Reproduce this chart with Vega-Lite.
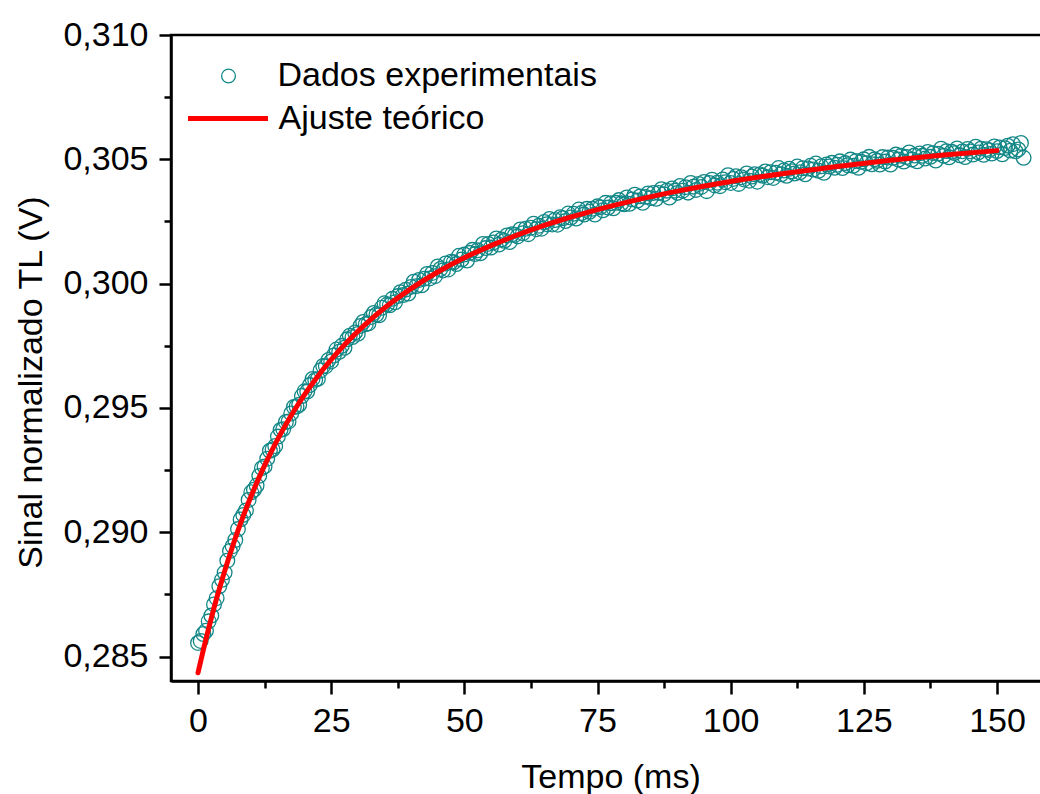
{
"$schema": "https://vega.github.io/schema/vega-lite/v6.json",
"width": 875, "height": 646,
"autosize": {"type": "none"},
"padding": {"left": 171, "top": 35, "right": 0, "bottom": 113},
"background": "white",
"config": {"view": {"stroke": "black", "strokeWidth": 2.5}, "font": "Liberation Sans", "axis": {"grid": false}},
"datasets": {
"pts": [
{"t":0,"v":0.28555},{"t":0.5,"v":0.28563},{"t":1,"v":0.28591},{"t":1.5,"v":0.28604},{"t":2,"v":0.28642},{"t":2.5,"v":0.28665},{"t":3,"v":0.28710},{"t":3.5,"v":0.28735},{"t":4,"v":0.28783},{"t":4.5,"v":0.28809},
{"t":5,"v":0.28838},{"t":5.5,"v":0.28886},{"t":6,"v":0.28925},{"t":6.5,"v":0.28944},{"t":7,"v":0.28969},{"t":7.5,"v":0.29013},{"t":8,"v":0.29052},{"t":8.5,"v":0.29070},{"t":9,"v":0.29088},{"t":9.5,"v":0.29130},
{"t":10,"v":0.29161},{"t":10.5,"v":0.29171},{"t":11,"v":0.29188},{"t":11.5,"v":0.29227},{"t":12,"v":0.29258},{"t":12.5,"v":0.29265},{"t":13,"v":0.29296},{"t":13.5,"v":0.29328},{"t":14,"v":0.29333},{"t":14.5,"v":0.29347},
{"t":15,"v":0.29385},{"t":15.5,"v":0.29412},{"t":16,"v":0.29415},{"t":16.5,"v":0.29444},{"t":17,"v":0.29446},{"t":17.5,"v":0.29478},{"t":18,"v":0.29504},{"t":18.5,"v":0.29506},{"t":19,"v":0.29513},{"t":19.5,"v":0.29548},
{"t":20,"v":0.29567},{"t":20.5,"v":0.29566},{"t":21,"v":0.29592},{"t":21.5,"v":0.29617},{"t":22,"v":0.29613},{"t":22.5,"v":0.29617},{"t":23,"v":0.29651},{"t":23.5,"v":0.29669},{"t":24,"v":0.29668},{"t":24.5,"v":0.29693},
{"t":25,"v":0.29687},{"t":25.5,"v":0.29711},{"t":26,"v":0.29735},{"t":26.5,"v":0.29726},{"t":27,"v":0.29750},{"t":27.5,"v":0.29742},{"t":28,"v":0.29776},{"t":28.5,"v":0.29791},{"t":29,"v":0.29785},{"t":29.5,"v":0.29804},
{"t":30,"v":0.29798},{"t":30.5,"v":0.29830},{"t":31,"v":0.29846},{"t":31.5,"v":0.29837},{"t":32,"v":0.29840},{"t":32.5,"v":0.29866},{"t":33,"v":0.29882},{"t":33.5,"v":0.29876},{"t":34,"v":0.29873},{"t":34.5,"v":0.29903},
{"t":35,"v":0.29921},{"t":35.5,"v":0.29916},{"t":36,"v":0.29913},{"t":36.5,"v":0.29939},{"t":37,"v":0.29925},{"t":37.5,"v":0.29950},{"t":38,"v":0.29966},{"t":38.5,"v":0.29954},{"t":39,"v":0.29976},{"t":39.5,"v":0.29960},
{"t":40,"v":0.29987},{"t":40.5,"v":0.30008},{"t":41,"v":0.29990},{"t":41.5,"v":0.30015},{"t":42,"v":0.29993},{"t":42.5,"v":0.30020},{"t":43,"v":0.30039},{"t":43.5,"v":0.30021},{"t":44,"v":0.30043},{"t":44.5,"v":0.30030},
{"t":45,"v":0.30069},{"t":45.5,"v":0.30059},{"t":46,"v":0.30053},{"t":46.5,"v":0.30081},{"t":47,"v":0.30057},{"t":47.5,"v":0.30088},{"t":48,"v":0.30086},{"t":48.5,"v":0.30079},{"t":49,"v":0.30112},{"t":49.5,"v":0.30097},
{"t":50,"v":0.30117},{"t":50.5,"v":0.30093},{"t":51,"v":0.30124},{"t":51.5,"v":0.30136},{"t":52,"v":0.30119},{"t":52.5,"v":0.30134},{"t":53,"v":0.30122},{"t":53.5,"v":0.30160},{"t":54,"v":0.30143},{"t":54.5,"v":0.30160},
{"t":55,"v":0.30145},{"t":55.5,"v":0.30166},{"t":56,"v":0.30182},{"t":56.5,"v":0.30157},{"t":57,"v":0.30178},{"t":57.5,"v":0.30172},{"t":58,"v":0.30194},{"t":58.5,"v":0.30167},{"t":59,"v":0.30199},{"t":59.5,"v":0.30196},
{"t":60,"v":0.30190},{"t":60.5,"v":0.30218},{"t":61,"v":0.30203},{"t":61.5,"v":0.30221},{"t":62,"v":0.30199},{"t":62.5,"v":0.30225},{"t":63,"v":0.30241},{"t":63.5,"v":0.30219},{"t":64,"v":0.30233},{"t":64.5,"v":0.30221},
{"t":65,"v":0.30248},{"t":65.5,"v":0.30239},{"t":66,"v":0.30260},{"t":66.5,"v":0.30238},{"t":67,"v":0.30256},{"t":67.5,"v":0.30237},{"t":68,"v":0.30267},{"t":68.5,"v":0.30263},{"t":69,"v":0.30252},{"t":69.5,"v":0.30282},
{"t":70,"v":0.30266},{"t":70.5,"v":0.30281},{"t":71,"v":0.30262},{"t":71.5,"v":0.30298},{"t":72,"v":0.30284},{"t":72.5,"v":0.30278},{"t":73,"v":0.30301},{"t":73.5,"v":0.30289},{"t":74,"v":0.30301},{"t":74.5,"v":0.30278},
{"t":75,"v":0.30311},{"t":75.5,"v":0.30307},{"t":76,"v":0.30295},{"t":76.5,"v":0.30325},{"t":77,"v":0.30306},{"t":77.5,"v":0.30323},{"t":78,"v":0.30303},{"t":78.5,"v":0.30325},{"t":79,"v":0.30336},{"t":79.5,"v":0.30323},
{"t":80,"v":0.30319},{"t":80.5,"v":0.30347},{"t":81,"v":0.30321},{"t":81.5,"v":0.30339},{"t":82,"v":0.30358},{"t":82.5,"v":0.30334},{"t":83,"v":0.30351},{"t":83.5,"v":0.30325},{"t":84,"v":0.30349},{"t":84.5,"v":0.30363},
{"t":85,"v":0.30344},{"t":85.5,"v":0.30365},{"t":86,"v":0.30341},{"t":86.5,"v":0.30365},{"t":87,"v":0.30380},{"t":87.5,"v":0.30360},{"t":88,"v":0.30374},{"t":88.5,"v":0.30346},{"t":89,"v":0.30383},{"t":89.5,"v":0.30374},
{"t":90,"v":0.30365},{"t":90.5,"v":0.30393},{"t":91,"v":0.30374},{"t":91.5,"v":0.30388},{"t":92,"v":0.30366},{"t":92.5,"v":0.30405},{"t":93,"v":0.30390},{"t":93.5,"v":0.30377},{"t":94,"v":0.30401},{"t":94.5,"v":0.30389},
{"t":95,"v":0.30409},{"t":95.5,"v":0.30372},{"t":96,"v":0.30405},{"t":96.5,"v":0.30418},{"t":97,"v":0.30395},{"t":97.5,"v":0.30406},{"t":98,"v":0.30392},{"t":98.5,"v":0.30419},{"t":99,"v":0.30408},{"t":99.5,"v":0.30436},
{"t":100,"v":0.30405},{"t":100.5,"v":0.30421},{"t":101,"v":0.30432},{"t":101.5,"v":0.30401},{"t":102,"v":0.30428},{"t":102.5,"v":0.30419},{"t":103,"v":0.30443},{"t":103.5,"v":0.30414},{"t":104,"v":0.30431},{"t":104.5,"v":0.30440},
{"t":105,"v":0.30410},{"t":105.5,"v":0.30439},{"t":106,"v":0.30434},{"t":106.5,"v":0.30451},{"t":107,"v":0.30428},{"t":107.5,"v":0.30448},{"t":108,"v":0.30425},{"t":108.5,"v":0.30446},{"t":109,"v":0.30465},{"t":109.5,"v":0.30440},
{"t":110,"v":0.30455},{"t":110.5,"v":0.30434},{"t":111,"v":0.30462},{"t":111.5,"v":0.30452},{"t":112,"v":0.30443},{"t":112.5,"v":0.30471},{"t":113,"v":0.30448},{"t":113.5,"v":0.30464},{"t":114,"v":0.30440},{"t":114.5,"v":0.30463},
{"t":115,"v":0.30474},{"t":115.5,"v":0.30459},{"t":116,"v":0.30483},{"t":116.5,"v":0.30454},{"t":117,"v":0.30472},{"t":117.5,"v":0.30446},{"t":118,"v":0.30479},{"t":118.5,"v":0.30471},{"t":119,"v":0.30486},{"t":119.5,"v":0.30466},
{"t":120,"v":0.30478},{"t":120.5,"v":0.30492},{"t":121,"v":0.30465},{"t":121.5,"v":0.30485},{"t":122,"v":0.30476},{"t":122.5,"v":0.30499},{"t":123,"v":0.30474},{"t":123.5,"v":0.30493},{"t":124,"v":0.30466},{"t":124.5,"v":0.30490},
{"t":125,"v":0.30500},{"t":125.5,"v":0.30484},{"t":126,"v":0.30510},{"t":126.5,"v":0.30480},{"t":127,"v":0.30500},{"t":127.5,"v":0.30494},{"t":128,"v":0.30479},{"t":128.5,"v":0.30509},{"t":129,"v":0.30491},{"t":129.5,"v":0.30507},
{"t":130,"v":0.30479},{"t":130.5,"v":0.30506},{"t":131,"v":0.30519},{"t":131.5,"v":0.30499},{"t":132,"v":0.30514},{"t":132.5,"v":0.30491},{"t":133,"v":0.30509},{"t":133.5,"v":0.30528},{"t":134,"v":0.30499},{"t":134.5,"v":0.30515},
{"t":135,"v":0.30492},{"t":135.5,"v":0.30524},{"t":136,"v":0.30514},{"t":136.5,"v":0.30503},{"t":137,"v":0.30530},{"t":137.5,"v":0.30510},{"t":138,"v":0.30525},{"t":138.5,"v":0.30495},{"t":139,"v":0.30523},{"t":139.5,"v":0.30543},
{"t":140,"v":0.30514},{"t":140.5,"v":0.30533},{"t":141,"v":0.30508},{"t":141.5,"v":0.30531},{"t":142,"v":0.30525},{"t":142.5,"v":0.30544},{"t":143,"v":0.30516},{"t":143.5,"v":0.30532},{"t":144,"v":0.30509},{"t":144.5,"v":0.30542},
{"t":145,"v":0.30532},{"t":145.5,"v":0.30519},{"t":146,"v":0.30551},{"t":146.5,"v":0.30528},{"t":147,"v":0.30543},{"t":147.5,"v":0.30518},{"t":148,"v":0.30541},{"t":148.5,"v":0.30537},{"t":149,"v":0.30523},{"t":149.5,"v":0.30552},
{"t":150,"v":0.30533},{"t":150.5,"v":0.30548},{"t":151,"v":0.30520},{"t":151.5,"v":0.30545},{"t":152,"v":0.30555},{"t":152.5,"v":0.30535},{"t":153,"v":0.30561},{"t":153.5,"v":0.30532},{"t":154,"v":0.30540},{"t":154.5,"v":0.30566},
{"t":155,"v":0.30506}
],
"fit": [
{"t":0,"f":0.28435},{"t":1,"f":0.28527},{"t":2,"f":0.28614},{"t":3,"f":0.28696},{"t":4,"f":0.28772},{"t":5,"f":0.28844},{"t":6,"f":0.28912},{"t":7,"f":0.28976},{"t":8,"f":0.29037},{"t":10,"f":0.29147},
{"t":12,"f":0.29246},{"t":14,"f":0.29335},{"t":16,"f":0.29415},{"t":18,"f":0.29488},{"t":20,"f":0.29554},{"t":22,"f":0.29614},{"t":25,"f":0.29694},{"t":28,"f":0.29765},{"t":31,"f":0.29828},{"t":35,"f":0.29902},
{"t":40,"f":0.29980},{"t":45,"f":0.30047},{"t":50,"f":0.30104},{"t":55,"f":0.30153},{"t":60,"f":0.30196},{"t":65,"f":0.30234},{"t":70,"f":0.30268},{"t":75,"f":0.30298},{"t":80,"f":0.30325},{"t":90,"f":0.30372},
{"t":100,"f":0.30411},{"t":110,"f":0.30443},{"t":120,"f":0.30471},{"t":130,"f":0.30496},{"t":140,"f":0.30517},{"t":150,"f":0.30535}
]
},
"layer": [
{
"data": {"name": "pts"},
"mark": {"type": "point", "shape": "circle", "filled": false, "color": "#138787", "size": 215, "strokeWidth": 1.3, "opacity": 1},
"encoding": {
"x": {"field": "t", "type": "quantitative", "scale": {"domain": [-5.07, 159.2], "nice": false, "zero": false},
 "axis": {"values": [0,25,50,75,100,125,150], "format": "d", "title": "Tempo (ms)", "titleFontSize": 34, "titleFontWeight": "normal", "titleColor": "black", "titleX": 439.5, "titleY": 106, "titleBaseline": "alphabetic", "titleAlign": "center",
  "labelFontSize": 34, "labelColor": "black", "labelPadding": 10, "labelFlush": false, "labelOverlap": false, "tickSize": 13, "tickWidth": 2.5, "tickColor": "black", "domainColor": "black", "domainWidth": 2.5}},
"y": {"field": "v", "type": "quantitative", "scale": {"domain": [0.28402, 0.310], "nice": false, "zero": false},
 "axis": {"values": [0.285,0.29,0.295,0.3,0.305,0.31], "labelExpr": "replace(format(datum.value, '.3f'), '.', ',')", "title": "Sinal normalizado TL (V)", "titleFontSize": 34, "titleFontWeight": "normal", "titleColor": "black", "titleX": -140, "titleY": 347, "titleAngle": -90, "titleBaseline": "middle", "titleAlign": "center",
  "labelFontSize": 34, "labelColor": "black", "labelPadding": 11, "labelFlush": false, "labelOverlap": false, "tickSize": 12, "tickWidth": 2.5, "tickColor": "black", "domainColor": "black", "domainWidth": 2.5}},
"shape": {"datum": "Dados experimentais", "scale": {"range": ["circle"]},
 "legend": {"title": null, "orient": "none", "legendX": 40.5, "legendY": 24, "padding": 0, "labelFontSize": 34, "labelColor": "black", "labelOffset": 32, "labelLimit": 1000, "symbolSize": 190, "symbolStrokeColor": "#138787", "symbolStrokeWidth": 1.3, "symbolFillColor": "transparent"}}
}
},
{
"data": {"name": "fit"},
"mark": {"type": "line", "strokeWidth": 5, "interpolate": "monotone", "strokeCap": "round"},
"encoding": {
"x": {"field": "t", "type": "quantitative",
 "axis": {"orient": "bottom", "values": [12.5,37.5,62.5,87.5,112.5,137.5], "labels": false, "domain": false, "title": null, "tickSize": 7, "tickWidth": 2.5, "tickColor": "black"}},
"y": {"field": "f", "type": "quantitative",
 "axis": {"orient": "left", "values": [0.2875,0.2925,0.2975,0.3025,0.3075], "labels": false, "domain": false, "title": null, "tickSize": 7, "tickWidth": 2.5, "tickColor": "black"}},
"color": {"datum": "Ajuste teórico", "scale": {"range": ["#ff0000"]},
 "legend": {"title": null, "orient": "none", "legendX": 14.5, "legendY": 41, "padding": 0, "symbolType": "stroke", "symbolSize": 6400, "symbolStrokeWidth": 5, "labelFontSize": 34, "labelColor": "black", "labelOffset": 8, "labelLimit": 1000}}
}
}
],
"resolve": {"axis": {"x": "independent", "y": "independent"}}
}
